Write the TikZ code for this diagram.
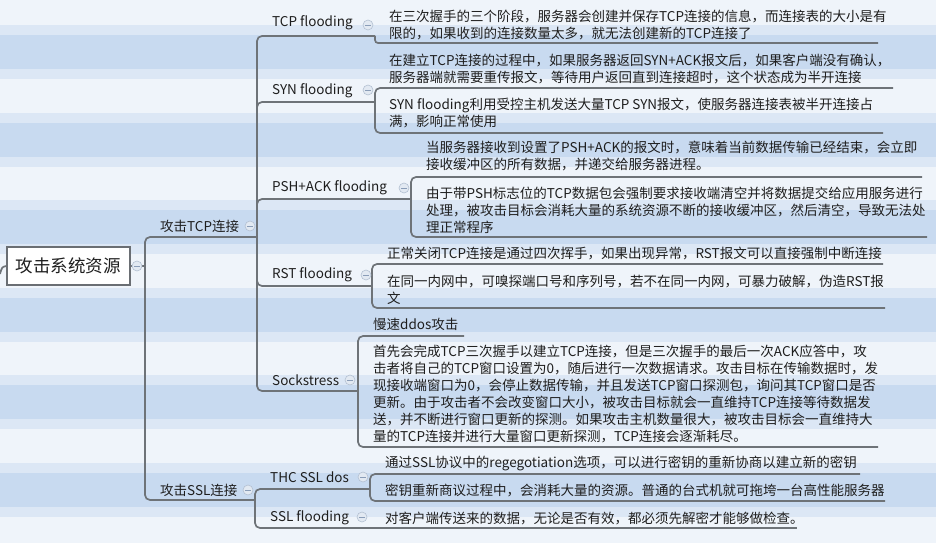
\documentclass[tikz,border=0pt]{standalone}
\usepackage{fontspec}
\setmainfont{Noto Sans CJK SC}
\definecolor{bgbase}{HTML}{EFF4FA}
\definecolor{bghalo}{HTML}{DCE7F5}
\definecolor{bgcore}{HTML}{C8DAF0}
\definecolor{linec}{HTML}{6E7378}
\definecolor{txt}{HTML}{1E1E1E}
\definecolor{foldd}{HTML}{B3C0D2}
\definecolor{foldf}{HTML}{E2E9F2}
\definecolor{foldm}{HTML}{8A9DB8}
\definecolor{rootd}{HTML}{6A6E73}
\tikzset{
  conn/.style={draw=linec, line width=1.7pt, rounded corners=5pt},
  topic/.style={anchor=base west, inner sep=0pt, font=\fontsize{13.5}{17}\selectfont, text=txt},
  note/.style={anchor=north west, inner sep=0pt, align=left, font=\fontsize{13.5}{17}\selectfont, text=txt},
  fold/.style={circle, draw=foldd, fill=foldf, line width=0.6pt, minimum size=10pt, inner sep=0pt,
    path picture={\draw[foldm, line width=0.8pt] ([xshift=-2.6pt]path picture bounding box.center) -- ([xshift=2.6pt]path picture bounding box.center);}},
}
\newcommand{\fs}{\rule{0pt}{12pt}}
\begin{document}
\begin{tikzpicture}[x=1pt,y=-1pt]
\useasboundingbox (0,0) rectangle (936,543);
% background stripes
\fill[bgbase] (0,0) rectangle (936,543);
\foreach \k in {0,...,5}{
  \pgfmathsetmacro\c{52+87.5*\k}
  \fill[bghalo] (0,\c-27) rectangle (936,\c+27);
  \fill[bgcore] (0,\c-17) rectangle (936,\c+17);
}
% root
\node[draw=rootd, fill=white, line width=1.5pt, minimum width=123pt, minimum height=38pt, inner sep=0pt,
  font=\fontsize{17.5}{20}\selectfont, text=txt] (root) at (68.5,266) {攻击系统资源};
\coordinate (offl) at (0,274);
\draw[conn] (offl) .. controls (2,267) .. (root.west);
% level 1 topics
\node[topic] (tcp) at (160,231) {攻击TCP连接};
\node[topic] (ssl) at (160,495) {攻击SSL连接};
% level 2 topics
\node[topic] (tf) at (272,27) {TCP flooding};
\node[topic] (syn) at (272,94) {SYN flooding};
\node[topic] (psh) at (272,191) {PSH+ACK flooding};
\node[topic] (rst) at (272,278) {RST flooding};
\node[topic] (sock) at (272,385) {Sockstress};
\node[topic] (thc) at (270,482) {THC SSL dos};
\node[topic] (sf) at (270,521) {SSL flooding};
% notes
\node[note] (tf1) at (389,9) {\fs 在三次握手的三个阶段，服务器会创建并保存TCP连接的信息，而连接表的大小是有\\限的，如果收到的连接数量太多，就无法创建新的TCP连接了};
\node[note] (syn1) at (389,53) {\fs 在建立TCP连接的过程中，如果服务器返回SYN+ACK报文后，如果客户端没有确认，\\服务器端就需要重传报文，等待用户返回直到连接超时，这个状态成为半开连接};
\node[note] (syn2) at (389,97) {\fs SYN flooding利用受控主机发送大量TCP SYN报文，使服务器连接表被半开连接占\\满，影响正常使用};
\node[note] (psh1) at (426,140) {\fs 当服务器接收到设置了PSH+ACK的报文时，意味着当前数据传输已经结束，会立即\\接收缓冲区的所有数据，并递交给服务器进程。};
\node[note] (psh2) at (426,186) {\fs 由于带PSH标志位的TCP数据包会强制要求接收端清空并将数据提交给应用服务进行\\处理，被攻击目标会消耗大量的系统资源不断的接收缓冲区，然后清空，导致无法处\\理正常程序};
\node[note] (rst1) at (387,246) {\fs 正常关闭TCP连接是通过四次挥手，如果出现异常，RST报文可以直接强制中断连接};
\node[note] (rst2) at (387,274) {\fs 在同一内网中，可嗅探端口号和序列号，若不在同一内网，可暴力破解，伪造RST报\\文};
\node[note] (sock1) at (373,317) {\fs 慢速ddos攻击};
\node[note] (sock2) at (373,344) {\fs 首先会完成TCP三次握手以建立TCP连接，但是三次握手的最后一次ACK应答中，攻\\击者将自己的TCP窗口设置为0，随后进行一次数据请求。攻击目标在传输数据时，发\\现接收端窗口为0，会停止数据传输，并且发送TCP窗口探测包，询问其TCP窗口是否\\更新。由于攻击者不会改变窗口大小，被攻击目标就会一直维持TCP连接等待数据发\\送，并不断进行窗口更新的探测。如果攻击主机数量很大，被攻击目标会一直维持大\\量的TCP连接并进行大量窗口更新探测，TCP连接会逐渐耗尽。};
\node[note] (thc1) at (385,455) {\fs 通过SSL协议中的regegotiation选项，可以进行密钥的重新协商以建立新的密钥};
\node[note] (thc2) at (385,483) {\fs 密钥重新商议过程中，会消耗大量的资源。普通的台式机就可拖垮一台高性能服务器};
\node[note] (sf1) at (385,511) {\fs 对客户端传送来的数据，无论是否有效，都必须先解密才能够做检查。};
% underline end points
\coordinate (j0) at (145,266);
\coordinate (tcpE) at (257,237);
\coordinate (sslE) at (255,500);
\coordinate (tfE) at (375,36);
\coordinate (synE) at (375,102);
\coordinate (pshE) at (411,199);
\coordinate (rstE) at (372,286);
\coordinate (sockE) at (358,391);
\coordinate (thcE) at (370,489);
\coordinate (sfE) at (372,528);
\coordinate (tf1E) at (878,43);
\coordinate (syn1E) at (893,88);
\coordinate (syn2E) at (883,133);
\coordinate (psh1E) at (922,177);
\coordinate (psh2E) at (927,237);
\coordinate (rst1E) at (883,264);
\coordinate (rst2E) at (885,308);
\coordinate (sock1E) at (464,336);
\coordinate (sock2E) at (878,447);
\coordinate (thc1E) at (860,474);
\coordinate (thc2E) at (885,501);
\coordinate (sf1E) at (797,528);
% connectors
\draw[conn] (root.east) -- (j0);
\draw[conn] (j0) |- (tcpE);
\draw[conn] (j0) |- (sslE);
\draw[conn] (tcpE) |- (tfE);
\draw[conn] (tcpE) |- (synE);
\draw[conn] (tcpE) |- (pshE);
\draw[conn] (tcpE) |- (rstE);
\draw[conn] (tcpE) |- (sockE);
\draw[conn] (sslE) |- (thcE);
\draw[conn] (sslE) |- (sfE);
\draw[conn, rounded corners=3pt] (tfE) |- (tf1E);
\draw[conn] (synE) |- (syn1E);
\draw[conn] (synE) |- (syn2E);
\draw[conn] (pshE) |- (psh1E);
\draw[conn] (pshE) |- (psh2E);
\draw[conn] (rstE) |- (rst1E);
\draw[conn] (rstE) |- (rst2E);
\draw[conn] (sockE) |- (sock1E);
\draw[conn] (sockE) |- (sock2E);
\draw[conn] (thcE) |- (thc1E);
\draw[conn] (thcE) |- (thc2E);
\draw[conn] (sfE) -- (sf1E);
% fold markers
\node[fold] (f0) at (137,266) {};
\node[fold] (f1) at (250,226) {};
\node[fold] (f2) at (248,490) {};
\node[fold] (f3) at (368,25) {};
\node[fold] (f4) at (368,90) {};
\node[fold] (f5) at (404,188) {};
\node[fold] (f6) at (366,275) {};
\node[fold] (f7) at (350,380) {};
\node[fold] (f8) at (363,477) {};
\node[fold] (f9) at (362,517) {};
\end{tikzpicture}
\end{document}
